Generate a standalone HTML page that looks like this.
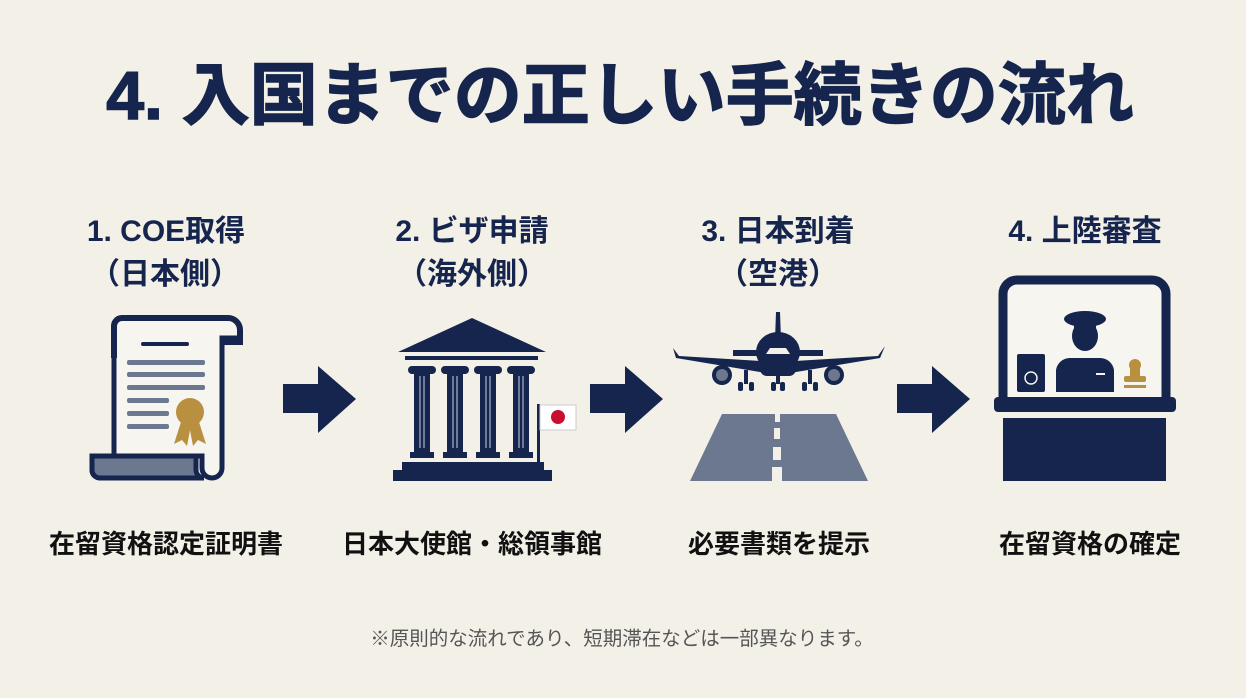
<!DOCTYPE html>
<html><head><meta charset="utf-8"><style>
html,body{margin:0;padding:0;background:#f3f0e7;}
svg{display:block}
text{font-family:"Liberation Sans","Noto Sans CJK JP",sans-serif;}
</style></head><body>
<svg width="1246" height="698" viewBox="0 0 1246 698" xmlns="http://www.w3.org/2000/svg">
<rect width="1246" height="698" fill="#f3f0e7"/>
<text x="620" y="119" text-anchor="middle" font-size="68" font-weight="bold" fill="#15254d" stroke="#15254d" stroke-width="1.5">4. 入国までの正しい手続きの流れ</text>
<g font-size="30" font-weight="bold" fill="#15254d" text-anchor="middle">
<text x="166" y="241">1. COE取得</text><text x="165" y="284">（日本側）</text>
<text x="472" y="241">2. ビザ申請</text><text x="472" y="284">（海外側）</text>
<text x="778" y="241">3. 日本到着</text><text x="778" y="284">（空港）</text>
<text x="1085" y="241">4. 上陸審査</text>
</g>
<g font-size="26" font-weight="bold" fill="#111" text-anchor="middle">
<text x="166" y="553">在留資格認定証明書</text>
<text x="472" y="553">日本大使館・総領事館</text>
<text x="779" y="553">必要書類を提示</text>
<text x="1090" y="553">在留資格の確定</text>
</g>
<text x="622" y="645" text-anchor="middle" font-size="19.5" fill="#555">※原則的な流れであり、短期滞在などは一部異なります。</text>
<!-- arrows -->
<g fill="#15254d">
<polygon points="283,384 318,384 318,366 356,399 318,433 318,413 283,413"/>
<polygon points="590,384 625,384 625,366 663,399 625,433 625,413 590,413"/>
<polygon points="897,384 932,384 932,366 970,399 932,433 932,413 897,413"/>
</g>
<!-- document -->
<g>
<path d="M114,478 V326 a8,8 0 0 1 8,-8 H228 a12,12 0 0 1 12,12 V338 H222 V468 a10,10 0 0 1 -20,0 V456 H92 V470 a8,8 0 0 0 8,8 Z" fill="#f7f5ef" stroke="#15254d" stroke-width="5"/>
<path d="M114,358 V326 a8,8 0 0 1 8,-8 H228 a12,12 0 0 1 12,12 V342 H222" fill="none" stroke="#15254d" stroke-width="6"/>
<path d="M92,456 H196 V470 a8,8 0 0 0 8,8 H100 a8,8 0 0 1 -8,-8 Z" fill="#6b7890" stroke="#15254d" stroke-width="5"/>
<rect x="141" y="342" width="48" height="4" rx="2" fill="#15254d"/>
<g fill="#6b7890"><rect x="127" y="360" width="78" height="5" rx="2"/><rect x="127" y="372" width="78" height="5" rx="2"/><rect x="127" y="385" width="78" height="5" rx="2"/><rect x="127" y="398" width="42" height="5" rx="2"/><rect x="127" y="411" width="42" height="5" rx="2"/><rect x="127" y="424" width="42" height="5" rx="2"/></g>
<circle cx="190" cy="412" r="14" fill="#b8903f"/>
<polygon points="181,422 174,444 182,440 187,446 191,425" fill="#b8903f"/><polygon points="199,422 206,444 198,440 193,446 189,425" fill="#b8903f"/>
</g>
<!-- building -->
<g fill="#15254d">
<polygon points="398,352 472,318 546,352"/>
<rect x="405" y="356" width="133" height="4"/>
<rect x="408" y="366" width="28" height="8" rx="4"/><rect x="441" y="366" width="28" height="8" rx="4"/><rect x="474" y="366" width="28" height="8" rx="4"/><rect x="507" y="366" width="28" height="8" rx="4"/>
<rect x="414" y="372" width="16" height="82"/><rect x="447" y="372" width="16" height="82"/><rect x="480" y="372" width="16" height="82"/><rect x="513" y="372" width="16" height="82"/>
<rect x="410" y="452" width="24" height="6"/><rect x="443" y="452" width="24" height="6"/><rect x="476" y="452" width="24" height="6"/><rect x="509" y="452" width="24" height="6"/>
<rect x="402" y="462" width="142" height="8"/><rect x="393" y="470" width="159" height="11"/>
<rect x="537" y="404" width="3" height="58"/>
</g>
<g stroke="#8a9ab5" stroke-width="1.5"><line x1="420" y1="376" x2="420" y2="448"/><line x1="424" y1="376" x2="424" y2="448"/><line x1="453" y1="376" x2="453" y2="448"/><line x1="457" y1="376" x2="457" y2="448"/><line x1="486" y1="376" x2="486" y2="448"/><line x1="490" y1="376" x2="490" y2="448"/><line x1="519" y1="376" x2="519" y2="448"/><line x1="523" y1="376" x2="523" y2="448"/></g>
<rect x="540" y="405" width="36" height="25" fill="#fff" stroke="#ccc"/><circle cx="558" cy="417" r="7" fill="#c8102e"/>
<!-- plane -->
<g fill="#15254d">
<polygon points="776,312 780,312 781,340 775,340"/>
<ellipse cx="778" cy="352" rx="22" ry="20"/>
<polygon points="733,350 823,350 823,356 733,356"/>
<path d="M673,348 L676,358 L778,375 L880,358 L885,346 L878,356 L778,362 L679,356 Z"/>
<rect x="760" y="362" width="36" height="14" rx="7"/>
<rect x="744" y="370" width="4" height="14"/><rect x="808" y="370" width="4" height="14"/><rect x="776" y="372" width="4" height="12"/>
<rect x="738" y="382" width="5" height="9" rx="2"/><rect x="749" y="382" width="5" height="9" rx="2"/><rect x="802" y="382" width="5" height="9" rx="2"/><rect x="813" y="382" width="5" height="9" rx="2"/><rect x="771" y="382" width="5" height="9" rx="2"/><rect x="780" y="382" width="5" height="9" rx="2"/>
<circle cx="722" cy="375" r="10"/><circle cx="834" cy="375" r="10"/>
</g>
<circle cx="722" cy="375" r="6" fill="#6b7890"/><circle cx="834" cy="375" r="6" fill="#6b7890"/>
<polygon points="766,354 790,354 786,348 770,348" fill="#f3f0e7"/>
<polygon points="722,414 836,414 868,481 690,481" fill="#6b7890"/>
<g fill="#f3f0e7"><rect x="775" y="414" width="5" height="8"/><rect x="774" y="428" width="6" height="11"/><rect x="773" y="447" width="8" height="13"/><rect x="772" y="467" width="10" height="14"/></g>
<!-- booth -->
<g>
<path d="M1003,400 V294 a14,14 0 0 1 14,-14 H1152 a14,14 0 0 1 14,14 V400" fill="#f7f5ef" stroke="#15254d" stroke-width="9"/>
<rect x="994" y="397" width="182" height="15" rx="4" fill="#15254d"/>
<rect x="1003" y="418" width="163" height="63" fill="#15254d"/>
<g fill="#15254d">
<ellipse cx="1085" cy="319" rx="21" ry="8"/><rect x="1074" y="322" width="22" height="6"/>
<ellipse cx="1085" cy="336" rx="13" ry="15"/>
<path d="M1056,392 V370 a14,14 0 0 1 14,-12 H1100 a14,14 0 0 1 14,12 V392 Z"/>
<rect x="1017" y="354" width="28" height="38" rx="2"/>
</g>
<circle cx="1031" cy="378" r="6" fill="none" stroke="#f7f5ef" stroke-width="1.5"/>
<rect x="1096" y="373" width="9" height="2" fill="#f7f5ef"/>
<g fill="#b8903f"><circle cx="1135" cy="365" r="6"/><rect x="1130" y="368" width="10" height="8"/><rect x="1124" y="376" width="22" height="6" rx="2"/><rect x="1124" y="385" width="22" height="3"/></g>
</g>
</svg>
</body></html>
